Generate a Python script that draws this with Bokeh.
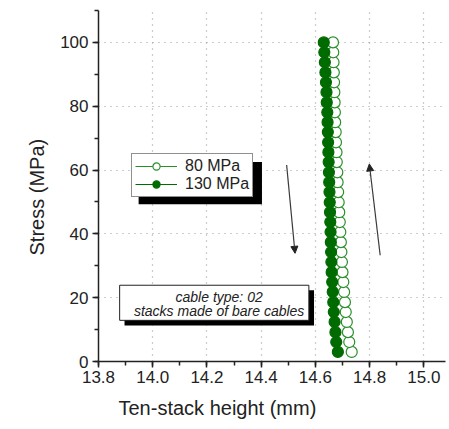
from bokeh.plotting import figure
from bokeh.models import (Range1d, SingleIntervalTicker, NumeralTickFormatter, Legend,
                          LegendItem, BoxAnnotation, Label, Arrow, NormalHead, Title)
from bokeh.embed import file_html
from bokeh.resources import INLINE

# Stress levels (MPa) and ten-stack heights (mm) for both pre-load series
stress = [3.0, 6.1, 9.2, 12.4, 15.5, 18.6, 21.8, 24.9, 28.0, 31.2, 34.3, 37.4,
          40.6, 43.7, 46.8, 49.9, 53.1, 56.2, 59.3, 62.5, 65.6, 68.7, 71.9, 75.0,
          78.1, 81.2, 84.4, 87.5, 90.6, 93.8, 96.9, 100.0]
height_80 = [14.734, 14.725, 14.720, 14.716, 14.712, 14.709, 14.706, 14.703,
             14.700, 14.698, 14.696, 14.694, 14.692, 14.690, 14.688, 14.686,
             14.684, 14.682, 14.681, 14.679, 14.678, 14.676, 14.675, 14.673,
             14.672, 14.671, 14.670, 14.669, 14.668, 14.667, 14.666, 14.665]
height_130 = [14.683, 14.677, 14.674, 14.671, 14.668, 14.666, 14.664, 14.662,
              14.660, 14.659, 14.658, 14.657, 14.656, 14.655, 14.654, 14.653,
              14.652, 14.651, 14.650, 14.649, 14.648, 14.647, 14.646, 14.645,
              14.644, 14.642, 14.641, 14.639, 14.637, 14.635, 14.633, 14.631]
series_labels = ["80 MPa", "130 MPa"]
note_lines = ["cable type: 02", "stacks made of bare cables"]
x_title = "Ten-stack height (mm)"
y_title = "Stress (MPa)"

# Loading / unloading direction arrows (x, y pairs in data units)
arrow_down = ((14.494, 61.6), (14.525, 33.9))
arrow_up = ((14.839, 33.3), (14.799, 61.9))

FONT = "Liberation Sans"
INK = "#222222"
open_green = "#2a8f2a"
dark_green = "#006b00"

p = figure(width=449, height=429, output_backend="svg", toolbar_location=None,
           x_range=Range1d(13.8, 15.08), y_range=Range1d(0, 110),
           min_border_left=98, min_border_right=4, min_border_top=10,
           min_border_bottom=68)
p.outline_line_color = None
p.background_fill_color = "white"
p.border_fill_color = "white"

p.xaxis.ticker = SingleIntervalTicker(interval=0.2, num_minor_ticks=2)
p.yaxis.ticker = SingleIntervalTicker(interval=20, num_minor_ticks=2)
p.xaxis.formatter = NumeralTickFormatter(format="0.0")
for ax in (p.xaxis, p.yaxis):
    ax.axis_line_color = INK
    ax.axis_line_width = 1.5
    ax.major_tick_line_color = INK
    ax.major_tick_line_width = 1.5
    ax.minor_tick_line_color = INK
    ax.minor_tick_line_width = 1.5
    ax.major_tick_out = 6
    ax.major_tick_in = 0
    ax.minor_tick_out = 4
    ax.minor_tick_in = 0
    ax.major_label_text_font = FONT
    ax.major_label_text_font_size = "17px"
    ax.major_label_text_color = INK
p.xaxis.major_label_standoff = 3
p.yaxis.major_label_standoff = 4

# Axis titles as side-panel titles so they can be shifted along the axes
p.add_layout(Title(text=x_title, align="left", offset=20, standoff=18,
                   text_font=FONT, text_font_size="20px",
                   text_font_style="normal", text_color=INK), "below")
p.add_layout(Title(text=y_title, align="left", offset=106, standoff=19,
                   text_font=FONT, text_font_size="20px",
                   text_font_style="normal", text_color=INK), "left")

for g in (p.xgrid, p.ygrid):
    g.grid_line_color = "#9a9a9a"
    g.grid_line_dash = "1 5"
    g.grid_line_width = 1.2

# Data series: open circles (80 MPa) underneath, filled circles (130 MPa) on top
l80 = p.line(height_80, stress, line_color=open_green, line_width=1)
s80 = p.scatter(height_80, stress, marker="circle", size=11,
                line_color=open_green, fill_color="white", line_width=1.2)
l130 = p.line(height_130, stress, line_color=dark_green, line_width=1)
s130 = p.scatter(height_130, stress, marker="circle", size=11,
                 line_color=dark_green, fill_color=dark_green, line_width=1.2)

# Direction arrows
for (x0, y0), (x1, y1) in (arrow_down, arrow_up):
    p.add_layout(Arrow(x_start=x0, y_start=y0, x_end=x1, y_end=y1,
                       line_color="#3a3a3a", line_width=1.2,
                       end=NormalHead(size=7, fill_color=INK, line_color=INK)))

# Note box with drop shadow
p.add_layout(BoxAnnotation(left=13.896, right=14.595, bottom=11.3, top=22.3,
                           fill_color="black", fill_alpha=1, line_color=None))
p.add_layout(BoxAnnotation(left=13.878, right=14.576, bottom=12.9, top=23.9,
                           fill_color="white", fill_alpha=1,
                           line_color=INK, line_width=1, line_alpha=1))
for txt, yy in zip(note_lines, (20.3, 15.9)):
    p.add_layout(Label(x=14.245, y=yy, text=txt, text_align="center",
                       text_baseline="middle", text_font=FONT,
                       text_font_size="14px", text_font_style="italic",
                       text_color=INK))

# Legend shadow, then the legend itself
p.add_layout(BoxAnnotation(left=13.948, right=14.403, bottom=49.3, top=62.5,
                           fill_color="black", fill_alpha=1, line_color=None))
legend = Legend(items=[LegendItem(label=series_labels[0], renderers=[l80, s80]),
                       LegendItem(label=series_labels[1], renderers=[l130, s130])],
                location=(33, 164), orientation="vertical",
                padding=3, spacing=0, margin=0,
                glyph_width=42, glyph_height=18, label_height=18,
                label_standoff=8, label_text_font=FONT,
                label_text_font_size="16px", label_text_color=INK,
                border_line_color=INK, border_line_width=1,
                background_fill_color="white", background_fill_alpha=1)
p.add_layout(legend)

open("out.html", "w").write(file_html(p, INLINE))
